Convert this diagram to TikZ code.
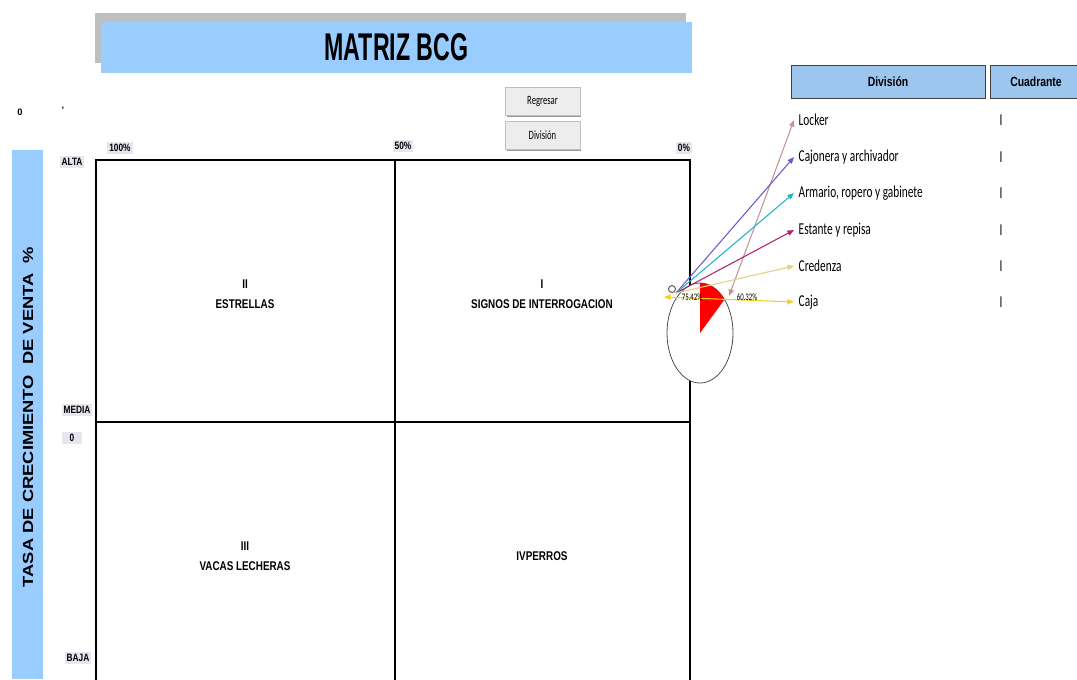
\documentclass[tikz,border=0pt]{standalone}
\usepackage{fontspec}
\setmainfont{Liberation Sans}
\newfontfamily\narrowbf[FakeStretch=0.78]{Liberation Sans}
\newfontfamily\titlebf[FakeStretch=0.6]{Liberation Sans}
\newfontfamily\listfont[FakeStretch=0.68]{Carlito}
\usetikzlibrary{arrows.meta,shadows}
\definecolor{bcgblue}{HTML}{99CCFF}
\definecolor{headblue}{HTML}{9DC6EE}
\definecolor{tagbg}{HTML}{E6E6F0}
\definecolor{lockerc}{HTML}{C4939A}
\definecolor{cajonerac}{HTML}{6A5ACD}
\definecolor{armarioc}{HTML}{22B4C8}
\definecolor{estantec}{HTML}{B0246E}
\definecolor{credenzac}{HTML}{E2D27A}
\definecolor{cajac}{HTML}{F2D21C}
\begin{document}
\begin{tikzpicture}[x=0.75pt,y=-0.75pt,
  tag/.style={fill=tagbg,inner sep=1.5pt,font=\narrowbf\bfseries\fontsize{8}{9}\selectfont},
  quad/.style={align=center,font=\narrowbf\bfseries\fontsize{9.5}{15}\selectfont},
  item/.style={anchor=west,font=\listfont\fontsize{12.5}{14}\selectfont},
  button/.style={draw=black!25,fill=black!7,minimum width=56pt,minimum height=21pt,
    drop shadow={shadow xshift=1pt,shadow yshift=-1pt,fill=black!40,opacity=1},
    font=\listfont\fontsize{9.5}{10}\selectfont},
  head/.style={draw=black!75,fill=headblue,minimum height=24.75pt,
    font=\narrowbf\bfseries\fontsize{10}{12}\selectfont},
  link/.style={-{Triangle[length=5pt,width=4pt]},line width=0.8pt}]
\useasboundingbox (0,0) rectangle (1077,679);

\fill[black!25] (95,13) rectangle (686,63);
\node[fill=bcgblue,minimum width=443.25pt,minimum height=38.25pt,
  font=\titlebf\bfseries\fontsize{29}{30}\selectfont] (title) at (396.5,47.5) {\raisebox{-2pt}{MATRIZ BCG}};

\node[font=\bfseries\fontsize{7}{8}\selectfont] (mark1) at (20,112) {0};
\node[font=\bfseries\fontsize{7}{8}\selectfont] (mark2) at (63,110) {'};

\node[button] (back) at (542.5,101.5) {Regresar};
\node[button] (div) at (542.5,135.5) {División};

\node[tag] (p100) at (120,148) {100\%};
\node[tag] (p50) at (403,146) {50\%};
\node[tag] (p0) at (684,148) {0\%};

\fill[bcgblue] (12,150) rectangle (43,679);
\node[rotate=90,font=\bfseries\fontsize{11}{12}\selectfont] (yaxis) at (28,417)
  {\scalebox{1.25}[1]{TASA DE CRECIMIENTO\ \ DE VENTA\ \ \%}};

\node[tag] (alta) at (72,162) {ALTA};
\node[tag] (media) at (77,410) {MEDIA};
\node[tag,minimum width=15pt] (cero) at (72,438) {0};
\node[tag] (baja) at (78,658) {BAJA};

\draw[line width=1.5pt] (96,690) -- (96,160) -- (690,160) -- (690,690);
\draw[line width=1.5pt] (395,160) -- (395,690);
\draw[line width=1.5pt] (96,422) -- (690,422);

\node[quad] (q2) at (245,294) {II\\ESTRELLAS};
\node[quad] (q1) at (542,294) {I\\SIGNOS DE INTERROGACION};
\node[quad] (q3) at (245,556) {III\\VACAS LECHERAS};
\node[quad] (q4) at (542,556) {IVPERROS};

\draw[black!70,fill=white,line width=0.6pt] (700,333) ellipse [x radius=33,y radius=50];
\fill[red] (700,333) -- (700,283) arc[start angle=-90,end angle=-42,x radius=33,y radius=50] -- cycle;
\draw[black!60,line width=0.8pt] (672,289) circle (3.5);
\coordinate (hub) at (676,293);
\coordinate (tip) at (729,296);
\coordinate (left) at (664,297);

\node[item] (locker) at (794,120) {Locker};
\node[item] (cajonera) at (794,157) {Cajonera y archivador};
\node[item] (armario) at (794,193) {Armario, ropero y gabinete};
\node[item] (estante) at (794,230) {Estante y repisa};
\node[item] (credenza) at (794,266) {Credenza};
\node[item] (caja) at (794,302) {Caja};

\draw[link,lockerc,{Triangle[length=5pt,width=4pt]}-{Triangle[length=5pt,width=4pt]}] (tip) -- (locker.west);
\draw[link,cajonerac] (hub) -- (cajonera.west);
\draw[link,armarioc] (hub) -- (armario.west);
\draw[link,estantec] (hub) -- (estante.west);
\draw[link,credenzac] (hub) -- (credenza.west);
\draw[link,cajac,{Triangle[length=5pt,width=4pt]}-{Triangle[length=5pt,width=4pt]}] (left) -- (caja.west);

\node[font=\listfont\fontsize{7.5}{8}\selectfont] (pleft) at (692,297) {75.42\%};
\node[font=\listfont\fontsize{7.5}{8}\selectfont] (pright) at (747,297) {60.32\%};

\node[head,minimum width=145.5pt] (hdiv) at (888,81.5) {División};
\node[head,minimum width=69pt] (hcuad) at (1036,81.5) {Cuadrante};

\node[item] (c1) at (995,120) {I};
\node[item] (c2) at (995,157) {I};
\node[item] (c3) at (995,193) {I};
\node[item] (c4) at (995,230) {I};
\node[item] (c5) at (995,266) {I};
\node[item] (c6) at (995,302) {I};
\end{tikzpicture}
\end{document}
